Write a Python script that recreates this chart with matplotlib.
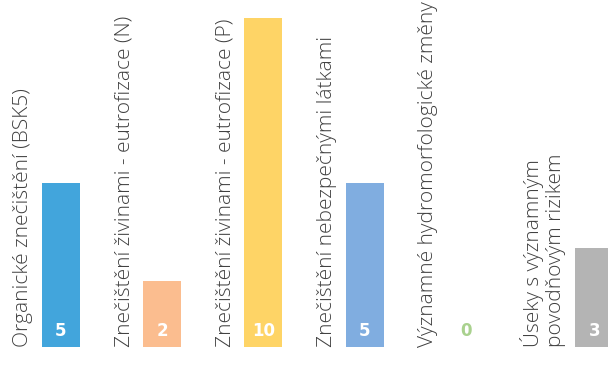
import numpy as np
import matplotlib
matplotlib.use("Agg")
import matplotlib.pyplot as plt

categories = [
    "Organické znečištění (BSK5)",
    "Znečištění živinami - eutrofizace (N)",
    "Znečištění živinami - eutrofizace (P)",
    "Znečištění nebezpečnými látkami",
    "Významné hydromorfologické změny",
    "Úseky s významným\npovodňovým rizikem",
]
values = [5, 2, 10, 5, 0, 3]
value_labels = ["5", "2", "10", "5", "0", "3"]
colors = ["#42a5dc", "#fbbd8f", "#fed466", "#80ade0", "#a9d18e", "#b4b4b4"]

fig = plt.figure(figsize=(6.08, 3.67), dpi=100)
ax = fig.add_axes([0, 0, 1, 1])
ax.set_axis_off()

px_x = 101.2  # pixels per category step
px_y = 32.9   # pixels per unit value
ax.set_xlim(-61 / px_x, -61 / px_x + 608 / px_x)
ax.set_ylim(-20 / px_y, -20 / px_y + 367 / px_y)

n_lines = np.array([c.count("\n") + 1 for c in categories])
extra = 0.27 * (n_lines - 1)
pos = np.arange(len(categories)) + np.cumsum(extra)
width = 0.375

ax.bar(pos, values, width=width, color=colors, linewidth=0)

for p, cat, v, lab, col in zip(pos, categories, values, value_labels, colors):
    ax.text(p - width / 2 - 9 / px_x, 0, cat, rotation=90, rotation_mode="anchor",
            ha="left", va="bottom", fontsize=15, color="#404040",
            family="Open Sans", fontweight="light", linespacing=1.15)
    ax.text(p, 16 / px_y, lab, ha="center", va="center", fontsize=12,
            fontweight="bold", family="DejaVu Sans",
            color="white" if v > 0 else col)

fig.savefig("out.png", dpi=100)
